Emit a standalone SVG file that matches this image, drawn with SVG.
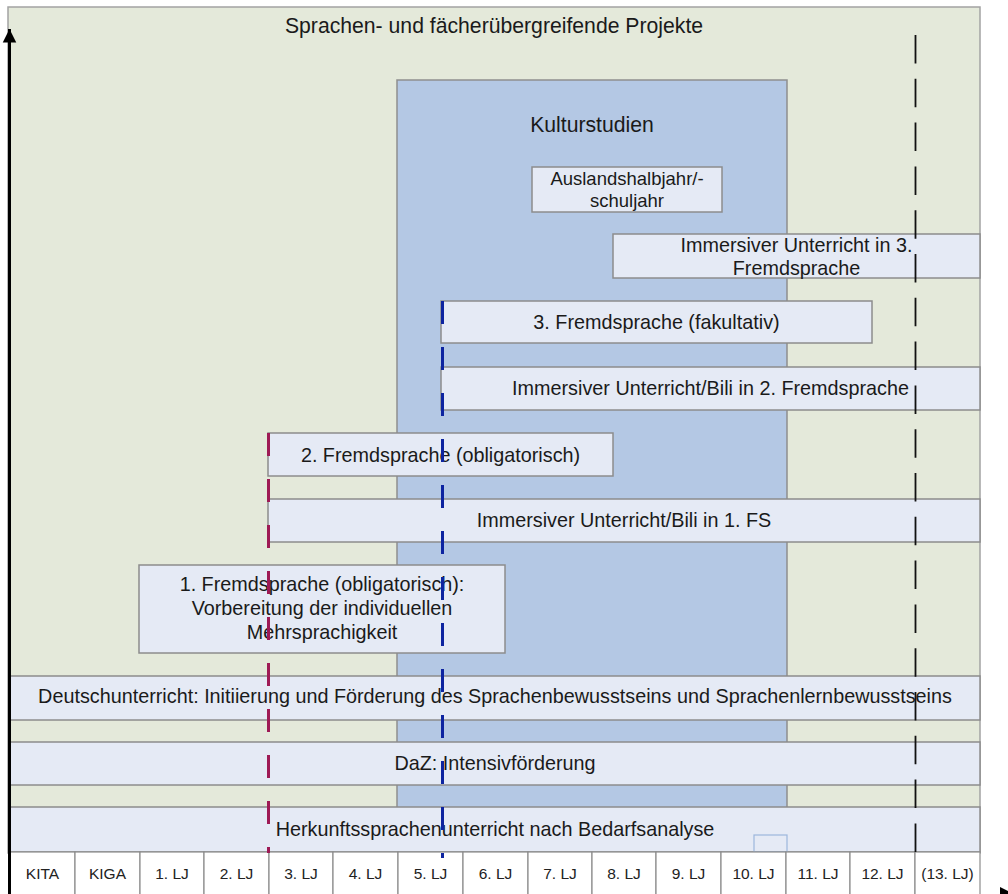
<svg xmlns="http://www.w3.org/2000/svg" width="1008" height="894" viewBox="0 0 1008 894">
<style>
.bg{fill:#e4e9da;stroke:#a3a3a3;stroke-width:1.5}
.kult{fill:#b4c8e4;stroke:#8e8e8e;stroke-width:1.5}
.box{fill:#e5eaf5;stroke:#8c8c8c;stroke-width:1.5}
.cell{fill:#ffffff;stroke:#8c8c8c;stroke-width:1.2}
.t{font-family:"Liberation Sans",Arial,sans-serif;fill:#1a1a1a;text-anchor:middle}
.t17{font-size:19.8px}
.t18{font-size:21.2px}
.t15{font-size:18.5px}
.t14{font-size:15.5px;fill:#222}
.dm{stroke:#9e1a55;stroke-width:3;stroke-dasharray:23 23;fill:none}
.db{stroke:#0d24a0;stroke-width:3;stroke-dasharray:23 23;fill:none}
.dk{stroke:#111;stroke-width:1.8;stroke-dasharray:28.5 15.3;fill:none}
</style>
<defs>
<marker id="arr" viewBox="0 0 10 10" refX="10" refY="5" markerWidth="4.5" markerHeight="7" orient="auto" markerUnits="strokeWidth">
<path d="M0,0 L10,5 L0,10 z" fill="#000"/>
</marker>
</defs>

<g id="projekte">
<rect class="bg" x="8" y="7" width="972" height="846"/>
<text class="t t18" x="494" y="33">Sprachen- und fächerübergreifende Projekte</text>
</g>

<g id="kulturstudien">
<rect class="kult" x="397" y="80" width="390" height="773"/>
<text class="t t18" x="592" y="132">Kulturstudien</text>
</g>

<g id="auslandsjahr">
<rect class="box" x="532" y="167" width="190" height="45"/>
<text class="t t15" x="627" y="185">Auslandshalbjahr/-</text>
<text class="t t15" x="627" y="207">schuljahr</text>
</g>

<g id="immersiv3">
<rect class="box" x="613" y="234" width="367" height="44"/>
<text class="t t17" x="796.5" y="252">Immersiver Unterricht in 3.</text>
<text class="t t17" x="796.5" y="275">Fremdsprache</text>
</g>

<g id="fs3">
<rect class="box" x="441" y="301" width="431" height="42"/>
<text class="t t17" x="656.5" y="329">3. Fremdsprache (fakultativ)</text>
</g>

<g id="immersiv2">
<rect class="box" x="441" y="367" width="539" height="43"/>
<text class="t t17" x="710.5" y="395">Immersiver Unterricht/Bili in 2. Fremdsprache</text>
</g>

<g id="fs2">
<rect class="box" x="268" y="433" width="345" height="43"/>
<text class="t t17" x="440.5" y="462">2. Fremdsprache (obligatorisch)</text>
</g>

<g id="immersiv1">
<rect class="box" x="268" y="499" width="712" height="43"/>
<text class="t t17" x="624" y="527">Immersiver Unterricht/Bili in 1. FS</text>
</g>

<g id="fs1">
<rect class="box" x="139" y="565" width="366" height="88"/>
<text class="t t17" x="322" y="591">1. Fremdsprache (obligatorisch):</text>
<text class="t t17" x="322" y="615">Vorbereitung der individuellen</text>
<text class="t t17" x="322" y="639">Mehrsprachigkeit</text>
</g>

<g id="deutsch">
<rect class="box" x="10" y="676" width="970" height="44"/>
<text class="t t17" x="495" y="703">Deutschunterricht: Initiierung und Förderung des Sprachenbewusstseins und Sprachenlernbewusstseins</text>
</g>

<g id="daz">
<rect class="box" x="10" y="742" width="970" height="43"/>
<text class="t t17" x="495" y="770">DaZ: Intensivförderung</text>
</g>

<g id="herkunft">
<rect class="box" x="10" y="807" width="970" height="45"/>
<rect x="754" y="835" width="33" height="17" fill="none" stroke="#9cb6dc" stroke-width="1.2"/>
<text class="t t17" x="495" y="836">Herkunftssprachenunterricht nach Bedarfsanalyse</text>
</g>

<g id="jahre">
<rect class="cell" x="10" y="852" width="65" height="50"/>
<rect class="cell" x="75" y="852" width="65" height="50"/>
<rect class="cell" x="140" y="852" width="64" height="50"/>
<rect class="cell" x="204" y="852" width="65" height="50"/>
<rect class="cell" x="269" y="852" width="64" height="50"/>
<rect class="cell" x="333" y="852" width="65" height="50"/>
<rect class="cell" x="398" y="852" width="65" height="50"/>
<rect class="cell" x="463" y="852" width="65" height="50"/>
<rect class="cell" x="528" y="852" width="64" height="50"/>
<rect class="cell" x="592" y="852" width="64" height="50"/>
<rect class="cell" x="656" y="852" width="65" height="50"/>
<rect class="cell" x="721" y="852" width="65" height="50"/>
<rect class="cell" x="786" y="852" width="64" height="50"/>
<rect class="cell" x="850" y="852" width="65" height="50"/>
<rect class="cell" x="915" y="852" width="65" height="50"/>
<text class="t t14" x="42.5" y="879">KITA</text>
<text class="t t14" x="107.5" y="879">KIGA</text>
<text class="t t14" x="172" y="879">1. LJ</text>
<text class="t t14" x="236.5" y="879">2. LJ</text>
<text class="t t14" x="301" y="879">3. LJ</text>
<text class="t t14" x="365.5" y="879">4. LJ</text>
<text class="t t14" x="430.5" y="879">5. LJ</text>
<text class="t t14" x="495.5" y="879">6. LJ</text>
<text class="t t14" x="560" y="879">7. LJ</text>
<text class="t t14" x="624" y="879">8. LJ</text>
<text class="t t14" x="688.5" y="879">9. LJ</text>
<text class="t t14" x="753.5" y="879">10. LJ</text>
<text class="t t14" x="818" y="879">11. LJ</text>
<text class="t t14" x="882.5" y="879">12. LJ</text>
<text class="t t14" x="947.5" y="879">(13. LJ)</text>
</g>

<g id="connectors">
<line class="dm" x1="268.5" y1="433" x2="268.5" y2="853"/>
<line class="db" x1="442.5" y1="301" x2="442.5" y2="858"/>
<line class="dk" x1="915.5" y1="35" x2="915.5" y2="852"/>
<line x1="9.5" y1="894" x2="9.5" y2="29" stroke="#000" stroke-width="3" marker-end="url(#arr)"/>
<polygon points="1000,887 1014,894 1000,901" fill="#000"/>
</g>
</svg>
